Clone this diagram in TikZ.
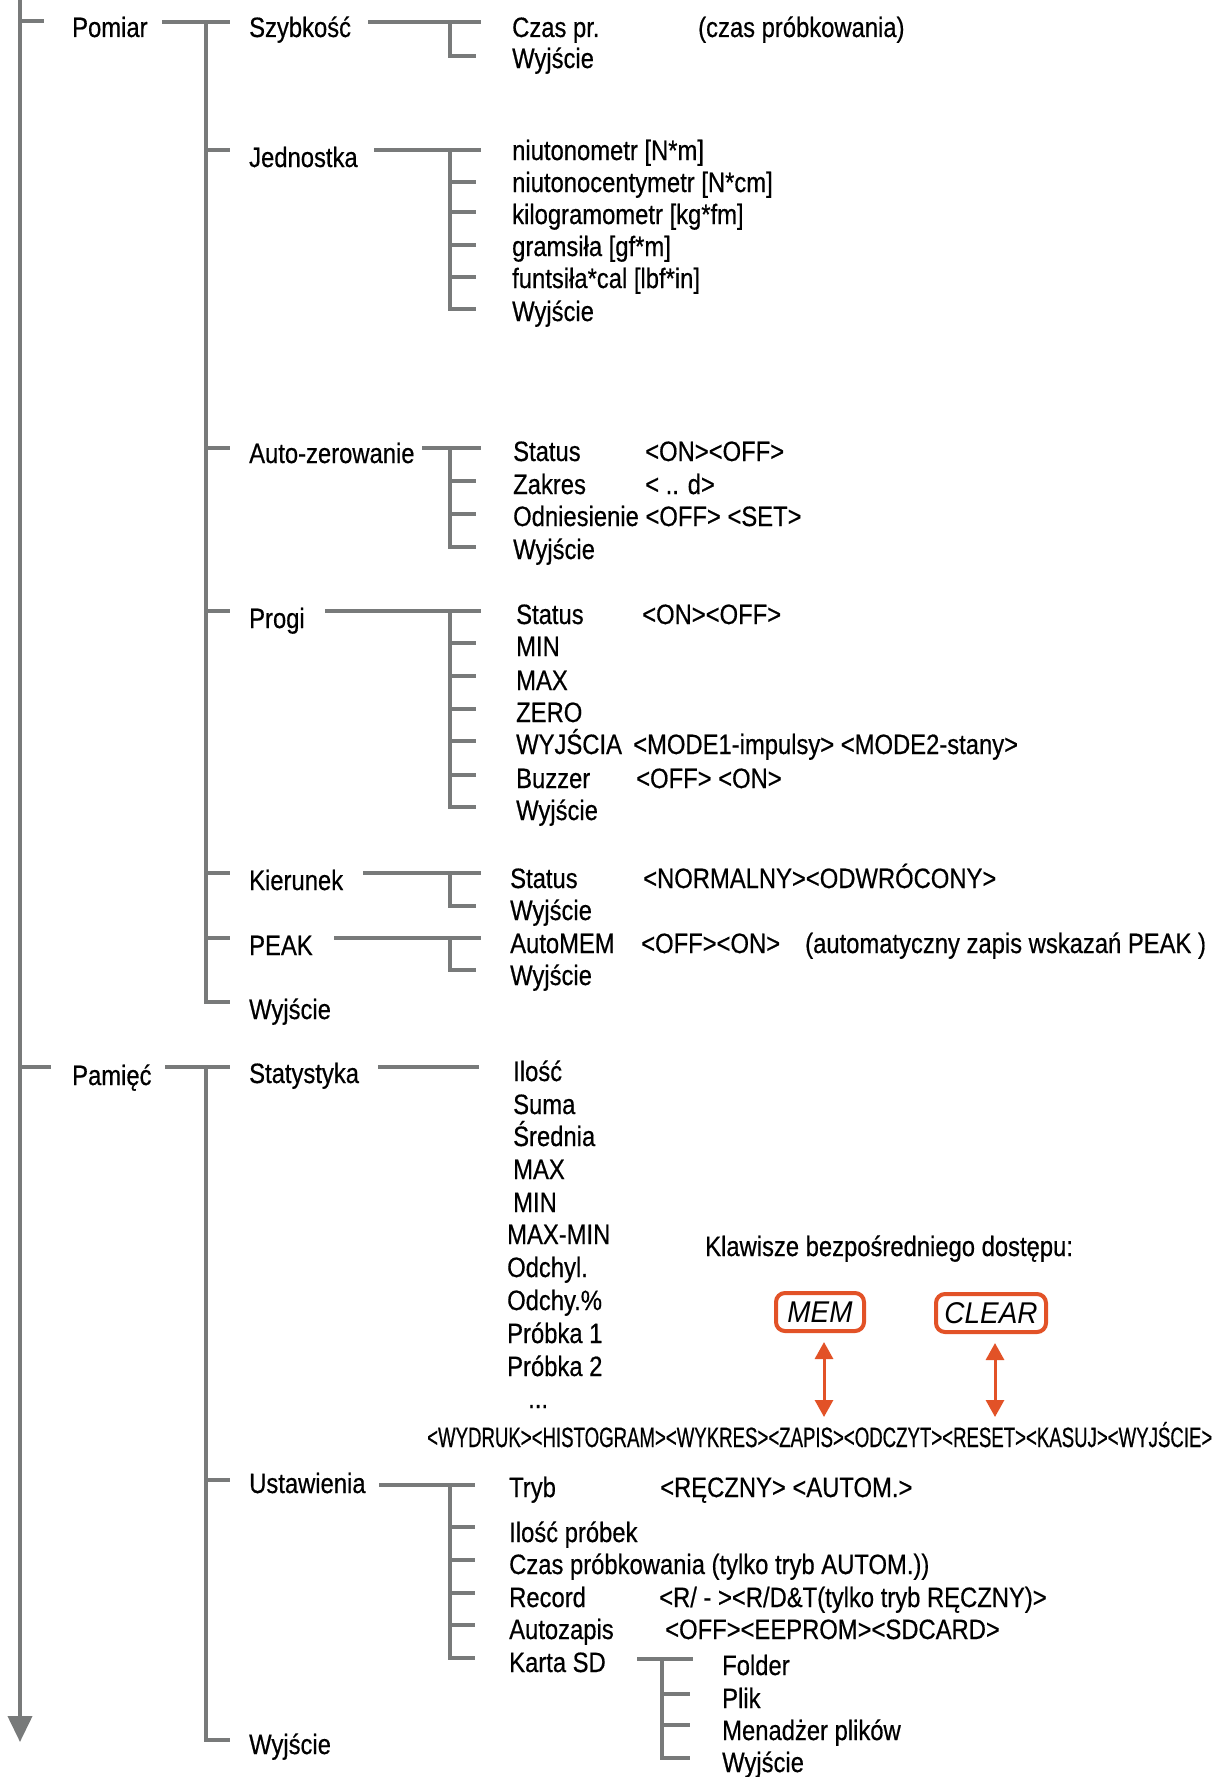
\documentclass[tikz,border=0pt]{standalone}
\usepackage{fontspec}
\setmainfont{Liberation Sans}[FakeStretch=0.85,FakeBold=0.5]
\newfontfamily\rowfont{Liberation Sans}[FakeStretch=0.665,FakeBold=0.5]
\newfontfamily\keyfont{Liberation Sans}[FakeStretch=0.93]
\definecolor{menugray}{RGB}{120,122,122}
\definecolor{menuorange}{RGB}{226,82,39}
\usetikzlibrary{arrows.meta}

\begin{document}
\begin{tikzpicture}[x=1pt,y=-1pt,
    tree/.style={menugray,line width=4pt},
    txt/.style={anchor=base west,inner sep=0pt,font=\fontsize{28}{33}\selectfont},
    keybox/.style={draw=menuorange,line width=4pt,rounded corners=9pt,minimum width=88pt,
      minimum height=38pt,inner sep=0pt,font=\keyfont\itshape\fontsize{30}{34}\selectfont},
    keyarr/.style={menuorange,line width=3pt,shorten <=9pt,
      {Triangle[length=17pt,width=18pt]}-{Triangle[length=17pt,width=18pt]}}]
  \useasboundingbox (0,0) rectangle (1222,1777);

  % main axis
  \draw[tree,-{Triangle[length=26pt,width=24pt]}] (20,0) -- (20,1742);
  \draw[tree] (20,21) -- (44,21);
  \draw[tree] (20,1067) -- (51,1067);
  \node[txt] (pomiar) at (72,37) {Pomiar};
  \node[txt] (pamiec) at (72,1085) {Pamięć};

  % Pomiar
  \draw[tree] (162,22) -- (230,22);
  \draw[tree] (206,22) -- (206,1002) -- (230,1002);
  \foreach \y in {150,448,611,873,938}
    \draw[tree] (206,\y) -- (230,\y);

  % Szybkosc
  \node[txt] (szyb) at (249,37) {Szybkość};
  \draw[tree] (368,22) -- (481,22);
  \draw[tree] (450,22) -- (450,56) -- (476,56);
  \node[txt] (szyb-1) at (512,37) {Czas pr.};
  \node[txt] (szyb-opis) at (698,37) {(czas próbkowania)};
  \node[txt] (szyb-2) at (512,68) {Wyjście};

  % Jednostka
  \node[txt] (jedn) at (249,167) {Jednostka};
  \draw[tree] (374,150) -- (481,150);
  \draw[tree] (450,150) -- (450,309) -- (476,309);
  \foreach \y in {182,212,245,277}
    \draw[tree] (450,\y) -- (476,\y);
  \foreach \t/\y [count=\i] in {{niutonometr [N*m]}/160,{niutonocentymetr [N*cm]}/192,
      {kilogramometr [kg*fm]}/224,{gramsiła [gf*m]}/256,{funtsiła*cal [lbf*in]}/288,Wyjście/321}
    \node[txt] (jedn-\i) at (512,\y) {\t};

  % Auto-zerowanie
  \node[txt] (auto) at (249,463) {Auto-zerowanie};
  \draw[tree] (422,448) -- (481,448);
  \draw[tree] (450,448) -- (450,547) -- (476,547);
  \foreach \y in {481,514}
    \draw[tree] (450,\y) -- (476,\y);
  \foreach \t/\y [count=\i] in {Status/461,Zakres/494,{Odniesienie <OFF> <SET>}/526,Wyjście/559}
    \node[txt] (auto-\i) at (513,\y) {\t};
  \node[txt] (auto-v1) at (645,461) {<ON><OFF>};
  \node[txt] (auto-v2) at (645,494) {< .. d>};

  % Progi
  \node[txt] (progi) at (249,628) {Progi};
  \draw[tree] (325,611) -- (481,611);
  \draw[tree] (450,611) -- (450,807) -- (476,807);
  \foreach \y in {643,676,709,741,775}
    \draw[tree] (450,\y) -- (476,\y);
  \foreach \t/\y [count=\i] in {Status/624,MIN/656,MAX/690,ZERO/722,WYJŚCIA/754,Buzzer/788,Wyjście/820}
    \node[txt] (progi-\i) at (516,\y) {\t};
  \node[txt] (progi-v1) at (642,624) {<ON><OFF>};
  \node[txt] (progi-v5) at (633,754) {<MODE1-impulsy> <MODE2-stany>};
  \node[txt] (progi-v6) at (636,788) {<OFF> <ON>};

  % Kierunek
  \node[txt] (kier) at (249,890) {Kierunek};
  \draw[tree] (363,873) -- (481,873);
  \draw[tree] (450,873) -- (450,906) -- (476,906);
  \node[txt] (kier-1) at (510,888) {Status};
  \node[txt] (kier-2) at (510,920) {Wyjście};
  \node[txt] (kier-v1) at (643,888) {<NORMALNY><ODWRÓCONY>};

  % PEAK
  \node[txt] (peak) at (249,955) {PEAK};
  \draw[tree] (334,938) -- (481,938);
  \draw[tree] (450,938) -- (450,970) -- (476,970);
  \node[txt] (peak-1) at (510,953) {AutoMEM};
  \node[txt] (peak-2) at (510,985) {Wyjście};
  \node[txt] (peak-v1) at (641,953) {<OFF><ON>};
  \node[txt] (peak-opis) at (805,953) {(automatyczny zapis wskazań PEAK )};

  \node[txt] (pom-wyj) at (249,1019) {Wyjście};

  % Pamiec
  \draw[tree] (165,1067) -- (230,1067);
  \draw[tree] (206,1067) -- (206,1740) -- (230,1740);
  \draw[tree] (206,1480) -- (230,1480);

  % Statystyka
  \node[txt] (stat) at (249,1083) {Statystyka};
  \draw[tree] (378,1067) -- (479,1067);
  \foreach \t/\y [count=\i] in {Ilość/1081,Suma/1114,Średnia/1146,MAX/1179,MIN/1212}
    \node[txt] (stat-\i) at (513,\y) {\t};
  \foreach \t/\y [count=\i from 6] in {MAX-MIN/1244,Odchyl./1277,Odchy.\%/1310,Próbka 1/1343,Próbka 2/1376}
    \node[txt] (stat-\i) at (507,\y) {\t};
  \node[txt] (stat-dots) at (528,1408) {...};

  % klawisze
  \node[txt] (klaw) at (705,1256) {Klawisze bezpośredniego dostępu:};
  \node[keybox] (mem) at (820,1312) {MEM};
  \node[keybox,minimum width=110pt] (clear) at (991,1313) {CLEAR};
  \node[txt,font=\rowfont\fontsize{28}{33}\selectfont] (opcje) at (427,1447)
    {<WYDRUK><HISTOGRAM><WYKRES><ZAPIS><ODCZYT><RESET><KASUJ><WYJŚCIE>};
  \coordinate (zapis) at (824,1417);
  \coordinate (reset) at (995,1417);
  \draw[keyarr] (mem.south -| zapis) -- (zapis);
  \draw[keyarr] (clear.south -| reset) -- (reset);

  % Ustawienia
  \node[txt] (ustaw) at (249,1493) {Ustawienia};
  \draw[tree] (379,1485) -- (475,1485);
  \draw[tree] (450,1485) -- (450,1658) -- (475,1658);
  \foreach \y in {1527,1560,1593,1625}
    \draw[tree] (450,\y) -- (475,\y);
  \foreach \t/\y [count=\i] in {Tryb/1497,Ilość próbek/1542,Czas próbkowania (tylko tryb AUTOM.))/1574,
      Record/1607,Autozapis/1639,Karta SD/1672}
    \node[txt] (ustaw-\i) at (509,\y) {\t};
  \node[txt] (ustaw-v1) at (660,1497) {<RĘCZNY> <AUTOM.>};
  \node[txt] (ustaw-v4) at (659,1607) {<R/ - ><R/D\&T(tylko tryb RĘCZNY)>};
  \node[txt] (ustaw-v5) at (665,1639) {<OFF><EEPROM><SDCARD>};

  % Karta SD
  \draw[tree] (637,1659) -- (693,1659);
  \draw[tree] (662,1659) -- (662,1758) -- (690,1758);
  \foreach \y in {1694,1725}
    \draw[tree] (662,\y) -- (690,\y);
  \foreach \t/\y [count=\i] in {Folder/1675,Plik/1708,Menadżer plików/1740,Wyjście/1772}
    \node[txt] (sd-\i) at (722,\y) {\t};

  \node[txt] (pam-wyj) at (249,1754) {Wyjście};
\end{tikzpicture}
\end{document}
